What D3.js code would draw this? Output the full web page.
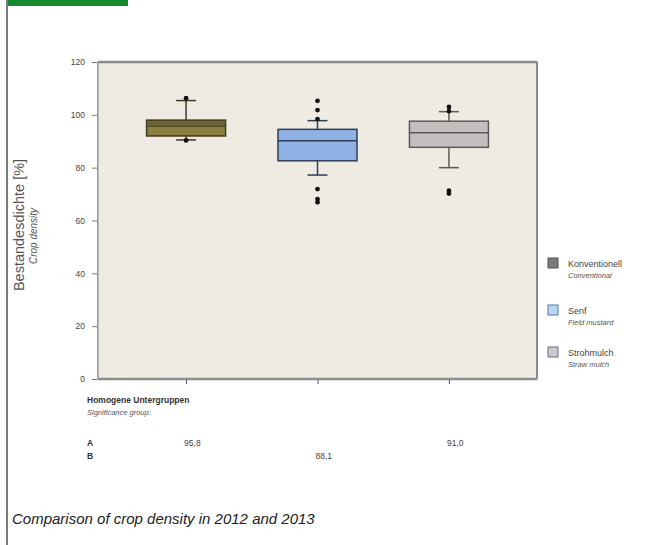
<!DOCTYPE html>
<html>
<head>
<meta charset="utf-8">
<script src="https://cdn.jsdelivr.net/npm/d3@7"></script>
<style>
  body { margin: 0; background: #fff; }
  svg { display: block; font-family: "Liberation Sans", Arial, sans-serif; }
</style>
</head>
<body>
<svg id="chart" width="656" height="545"></svg>
<script>
// data
var categories = ["Konventionell", "Senf", "Strohmulch"];
var categoriesEn = ["Conventional", "Field mustard", "Straw mulch"];
var q1 = [92.0, 82.6, 87.7];
var median = [95.8, 90.2, 93.2];
var q3 = [98.0, 94.5, 97.6];
var whiskerLow = [90.5, 77.2, 80.0];
var whiskerHigh = [105.4, 97.8, 101.2];
var outliers = [[106.3, 90.3], [98.4, 101.8, 105.3, 71.9, 68.1, 66.9], [101.4, 103.0, 71.3, 70.2]];
var groupA = ["95,8", "", "91,0"];
var groupB = ["", "88,1", ""];
var yTicks = [0, 20, 40, 60, 80, 100, 120];

var boxFill = ["#8a7f40", "#8fb1e3", "#c3bfbf"];
var boxStroke = ["#3e3a22", "#2f3e58", "#5a5a5a"];
var legendFill = ["#7a7a7a", "#b9d6f3", "#c9c7d2"];
var legendStroke = ["#555", "#4f79b0", "#6a6a7a"];

var svg = d3.select("#chart");

// page frame
svg.append("rect").attr("x", 6).attr("y", 0).attr("width", 2).attr("height", 545).attr("fill", "#7a7a7a");
svg.append("rect").attr("x", 8).attr("y", 0).attr("width", 120).attr("height", 6).attr("fill", "#148a2c");

var plotL = 98, plotR = 537, plotT = 62, plotB = 379;

var y = d3.scaleLinear().domain([0, 120]).range([plotB, plotT]);
var x = d3.scalePoint().domain(categories).range([plotL, plotR]).padding(0.67);

// plot background
svg.append("rect")
  .attr("x", plotL).attr("y", plotT)
  .attr("width", plotR - plotL).attr("height", plotB - plotT)
  .attr("fill", "#efebe3")
  .attr("stroke", "#8c8c8c").attr("stroke-width", 1);
svg.append("line").attr("x1", plotL).attr("x2", plotR).attr("y1", plotT).attr("y2", plotT)
  .attr("stroke", "#8c8c8c").attr("stroke-width", 2.5);
svg.append("line").attr("x1", plotL).attr("x2", plotR).attr("y1", plotB).attr("y2", plotB)
  .attr("stroke", "#8c8c8c").attr("stroke-width", 2.5);
svg.append("line").attr("x1", plotR).attr("x2", plotR).attr("y1", plotT).attr("y2", plotB)
  .attr("stroke", "#8c8c8c").attr("stroke-width", 2);

// axes
var yAxis = svg.append("g")
  .attr("transform", "translate(" + (plotL - 1) + ",0)")
  .call(d3.axisLeft(y).tickValues(yTicks).tickSize(5).tickPadding(7));
yAxis.select(".domain").attr("stroke", "#9a9a9a");
yAxis.selectAll(".tick line").attr("stroke", "#777");
yAxis.selectAll(".tick text").attr("fill", "#444").style("font-size", "8.5px");

var xAxis = svg.append("g")
  .attr("transform", "translate(0," + (plotB + 1) + ")")
  .call(d3.axisBottom(x).tickSize(4).tickFormat(""));
xAxis.select(".domain").remove();
xAxis.selectAll(".tick line").attr("stroke", "#555");

// y titles
svg.append("text")
  .attr("transform", "translate(24,225) rotate(-90)")
  .attr("text-anchor", "middle")
  .attr("fill", "#555")
  .style("font-size", "14.5px")
  .text("Bestandesdichte  [%]");
svg.append("text")
  .attr("transform", "translate(37,236) rotate(-90)")
  .attr("text-anchor", "middle")
  .attr("fill", "#555")
  .style("font-size", "10px")
  .style("font-style", "italic")
  .text("Crop density");

// boxes
var boxW = 79, capW = 20;
var g = svg.selectAll(".box").data(categories).enter().append("g").attr("class", "box");

g.append("line")
  .attr("x1", function(d) { return x(d); }).attr("x2", function(d) { return x(d); })
  .attr("y1", function(d, i) { return y(whiskerHigh[i]); })
  .attr("y2", function(d, i) { return y(whiskerLow[i]); })
  .attr("stroke", function(d, i) { return boxStroke[i]; }).attr("stroke-width", 1.5);
g.append("line")
  .attr("x1", function(d) { return x(d) - capW / 2; }).attr("x2", function(d) { return x(d) + capW / 2; })
  .attr("y1", function(d, i) { return y(whiskerHigh[i]); })
  .attr("y2", function(d, i) { return y(whiskerHigh[i]); })
  .attr("stroke", function(d, i) { return boxStroke[i]; }).attr("stroke-width", 1.5);
g.append("line")
  .attr("x1", function(d) { return x(d) - capW / 2; }).attr("x2", function(d) { return x(d) + capW / 2; })
  .attr("y1", function(d, i) { return y(whiskerLow[i]); })
  .attr("y2", function(d, i) { return y(whiskerLow[i]); })
  .attr("stroke", function(d, i) { return boxStroke[i]; }).attr("stroke-width", 1.5);

g.append("rect")
  .attr("x", function(d) { return x(d) - boxW / 2; })
  .attr("y", function(d, i) { return y(q3[i]); })
  .attr("width", boxW)
  .attr("height", function(d, i) { return y(q1[i]) - y(q3[i]); })
  .attr("fill", function(d, i) { return boxFill[i]; })
  .attr("stroke", function(d, i) { return boxStroke[i]; }).attr("stroke-width", 1.5);

// darker upper half on the first box, as in the picture
svg.append("rect")
  .attr("x", x(categories[0]) - boxW / 2 + 1)
  .attr("y", y(q3[0]) + 1)
  .attr("width", boxW - 2)
  .attr("height", y(median[0]) - y(q3[0]) - 1)
  .attr("fill", "#6c6331");

g.append("line")
  .attr("x1", function(d) { return x(d) - boxW / 2; }).attr("x2", function(d) { return x(d) + boxW / 2; })
  .attr("y1", function(d, i) { return y(median[i]); })
  .attr("y2", function(d, i) { return y(median[i]); })
  .attr("stroke", function(d, i) { return boxStroke[i]; }).attr("stroke-width", 1.5);

g.each(function(d, i) {
  d3.select(this).selectAll("circle").data(outliers[i]).enter().append("circle")
    .attr("cx", x(d))
    .attr("cy", function(v) { return y(v); })
    .attr("r", 2.4)
    .attr("fill", "#111");
});

// legend
var legend = svg.selectAll(".legend").data(categories).enter().append("g")
  .attr("class", "legend")
  .attr("transform", function(d, i) { return "translate(548," + [258, 305, 347][i] + ")"; });
legend.append("rect")
  .attr("width", 10).attr("height", 10)
  .attr("fill", function(d, i) { return legendFill[i]; })
  .attr("stroke", function(d, i) { return legendStroke[i]; });
legend.append("text")
  .attr("x", 20).attr("y", 9)
  .attr("fill", "#444").style("font-size", "9px")
  .text(function(d) { return d; });
legend.append("text")
  .attr("x", 20).attr("y", 20)
  .attr("fill", "#555").style("font-size", "7.5px").style("font-style", "italic")
  .text(function(d, i) { return categoriesEn[i]; });

// significance groups
svg.append("text").attr("x", 87).attr("y", 403)
  .attr("fill", "#333").style("font-size", "8.5px").style("font-weight", "bold")
  .text("Homogene Untergruppen");
svg.append("text").attr("x", 87).attr("y", 415)
  .attr("fill", "#555").style("font-size", "7.5px").style("font-style", "italic")
  .text("Significance group:");
svg.append("text").attr("x", 87).attr("y", 446).attr("fill", "#333").style("font-size", "8.5px").style("font-weight", "bold").text("A");
svg.append("text").attr("x", 87).attr("y", 459).attr("fill", "#333").style("font-size", "8.5px").style("font-weight", "bold").text("B");
svg.selectAll(".ga").data(categories).enter().append("text")
  .attr("x", function(d) { return x(d) - 2; }).attr("y", 446)
  .attr("fill", "#444").style("font-size", "8.5px")
  .text(function(d, i) { return groupA[i]; });
svg.selectAll(".gb").data(categories).enter().append("text")
  .attr("x", function(d) { return x(d) - 2; }).attr("y", 459)
  .attr("fill", "#444").style("font-size", "8.5px")
  .text(function(d, i) { return groupB[i]; });

// caption
svg.append("text").attr("x", 12).attr("y", 524)
  .attr("fill", "#222").style("font-size", "15px").style("font-style", "italic")
  .text("Comparison of crop density in 2012 and 2013");
</script>
</body>
</html>
